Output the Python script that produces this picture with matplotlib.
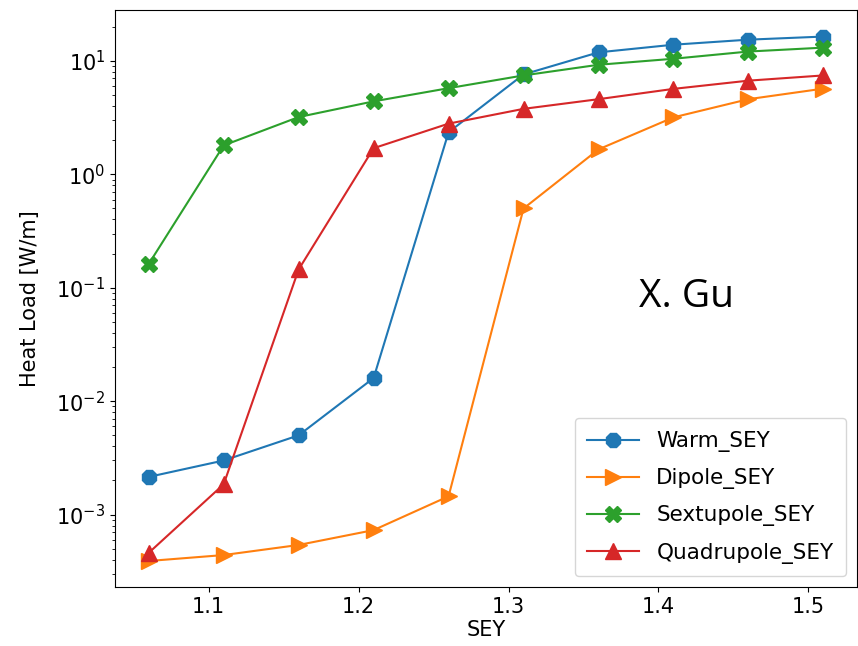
import numpy as np
import matplotlib.pyplot as plt

# SEY scan values and heat loads
sey = [1.06, 1.11, 1.16, 1.21, 1.26, 1.31, 1.36, 1.41, 1.46, 1.51]

warm = [2.15e-3, 3.0e-3, 5.0e-3, 0.016, 2.35, 7.6, 11.9, 13.9, 15.4, 16.4]
dipole = [3.9e-4, 4.4e-4, 5.4e-4, 7.3e-4, 1.45e-3, 0.50, 1.66, 3.18, 4.6, 5.7]
sextupole = [0.162, 1.8, 3.2, 4.4, 5.75, 7.45, 9.25, 10.45, 12.1, 13.1]
quadrupole = [4.6e-4, 1.85e-3, 0.145, 1.7, 2.8, 3.78, 4.6, 5.67, 6.7, 7.45]

fig = plt.figure(figsize=(8.58, 6.46), dpi=100)
ax = fig.add_axes([0.134, 0.091, 0.865, 0.893])

ax.plot(sey, warm, marker='8', markersize=11, label='Warm_SEY')
ax.plot(sey, dipole, marker='>', markersize=11, label='Dipole_SEY')
ax.plot(sey, sextupole, marker='X', markersize=11, label='Sextupole_SEY')
ax.plot(sey, quadrupole, marker='^', markersize=11, label='Quadrupole_SEY')

ax.set_yscale('log')
ax.set_xlabel('SEY', fontsize=15, labelpad=2)
ax.set_ylabel('Heat Load [W/m]', fontsize=15, labelpad=12)
ax.tick_params(labelsize=15)
ax.legend(loc='lower right', fontsize=15.5, labelspacing=0.75,
          handlelength=2.4, borderpad=0.6)

ax.text(0.770, 0.503, 'X. Gu', transform=ax.transAxes, fontsize=28,
        family='Open Sans', ha='center', va='center')

fig.savefig('out.png', dpi=100)
